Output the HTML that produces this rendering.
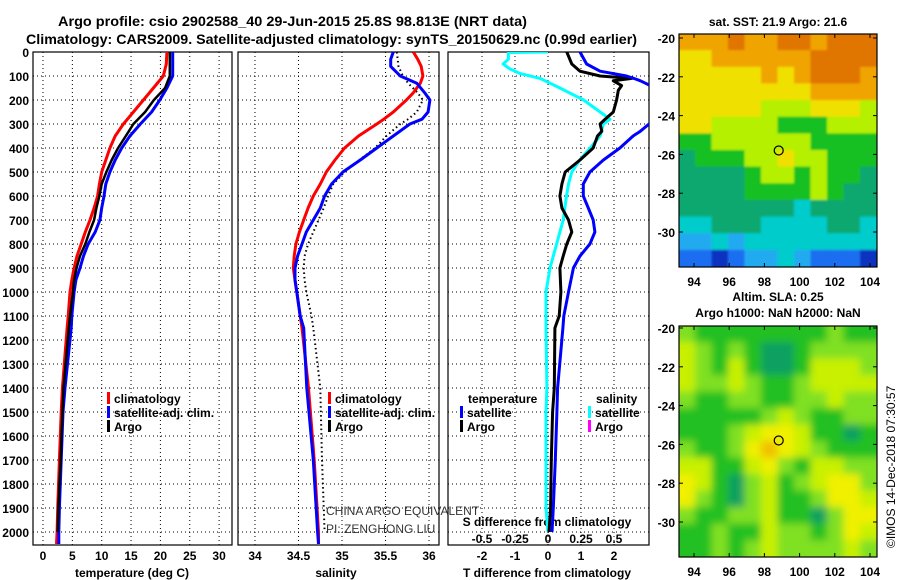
<!DOCTYPE html>
<html><head><meta charset="utf-8"><style>
html,body{margin:0;padding:0;background:#fff;}
svg{display:block;font-family:"Liberation Sans",sans-serif;font-weight:bold;}
</style></head><body>
<svg id="c" width="900" height="580" viewBox="0 0 900 580" xmlns="http://www.w3.org/2000/svg">
<defs>
<clipPath id="cp1"><rect x="33" y="52" width="199" height="493"/></clipPath>
<clipPath id="cp2"><rect x="238" y="52" width="201" height="493"/></clipPath>
<clipPath id="cp3"><rect x="448" y="52" width="201" height="493"/></clipPath>
<clipPath id="cm1"><rect x="679" y="34" width="198" height="233"/></clipPath>
<clipPath id="cm2"><rect x="679" y="326" width="198" height="231"/></clipPath>
<filter id="bl" x="-10%" y="-10%" width="120%" height="120%"><feGaussianBlur stdDeviation="4"/></filter>
<filter id="bl1" x="-10%" y="-10%" width="120%" height="120%"><feGaussianBlur stdDeviation="1"/></filter>
</defs>
<text x="58" y="26" font-size="14" textLength="469" lengthAdjust="spacingAndGlyphs">Argo profile: csio 2902588_40 29-Jun-2015 25.8S 98.813E (NRT data)</text>
<text x="26" y="44" font-size="14" textLength="611" lengthAdjust="spacingAndGlyphs">Climatology: CARS2009. Satellite-adjusted climatology: synTS_20150629.nc (0.99d earlier)</text>
<text x="778" y="26" font-size="12" text-anchor="middle">sat. SST: 21.9 Argo: 21.6</text>
<text x="778" y="301" font-size="12" text-anchor="middle">Altim. SLA: 0.25</text>
<text x="778" y="317" font-size="12" text-anchor="middle">Argo h1000: NaN h2000: NaN</text>
<text transform="translate(895,548) rotate(-90)" font-size="12" font-weight="normal">©IMOS 14-Dec-2018 07:30:57</text>
<g id="g"></g>
</svg>
<script>
// ---- data ----
const depthT = [0,50,100,150,200,250,300,350,400,450,500,550,600,650,700,750,800,850,900,950,1000,1100,1150,1400,1500,1700,1900,2000,2050];
const tempClim = [21.1,21.0,20.5,18.8,17.1,15.4,13.7,12.3,11.4,10.7,10.0,9.6,9.3,8.7,8.0,7.2,6.5,5.8,5.3,4.9,4.6,4.3,4.1,3.3,3.1,2.8,2.5,2.4,2.3];
const tempSat  = [22.1,22.1,22.1,21.1,19.9,18.5,16.6,14.8,13.4,12.3,11.4,10.7,10.4,10.0,9.7,8.9,7.7,6.9,6.3,5.6,5.3,4.9,4.8,3.75,3.4,3.1,2.8,2.7,2.7];
const tempArgo = [21.6,21.6,21.6,20.8,18.9,17.4,15.4,14.1,12.8,11.7,10.8,10.0,9.6,9.1,8.7,7.9,7.2,6.3,5.7,5.3,5.1,4.6,4.4,3.5,3.3,3.0,2.6,2.5,null];
const depthS = [0,30,60,100,130,170,200,250,280,300,350,400,450,500,550,600,650,700,750,800,850,900,950,1000,1100,1150,1400,1700,2000,2050];
const salClim = [35.82,35.87,35.91,35.93,35.90,35.82,35.74,35.59,35.48,35.40,35.19,35.03,34.92,34.82,34.75,34.67,34.61,34.56,34.51,34.47,34.45,34.44,34.46,34.48,34.52,34.54,34.615,34.68,34.73,34.73];
const salSat  = [35.59,35.56,35.56,35.67,35.86,35.95,36.01,35.99,35.92,35.78,35.59,35.40,35.21,35.01,34.88,34.80,34.75,34.67,34.59,34.54,34.49,34.46,34.46,34.48,34.52,34.56,34.595,34.67,34.72,34.73];
const salArgo = [35.63,35.64,35.65,35.70,35.76,35.87,35.93,35.86,35.76,35.67,35.51,35.38,35.20,35.03,34.90,34.84,34.79,34.73,34.67,34.61,34.57,34.56,34.57,34.59,34.65,34.67,34.75,34.77,34.80,null];
const depthD = [0,50,80,100,110,120,140,160,200,250,280,300,330,350,400,450,500,550,600,650,700,750,800,850,900,1000,1100,1150,1400,1500,1700,1900,2000];
const tdiffArgo = [0.57,0.72,0.97,1.58,2.54,1.98,2.23,2.13,2.08,1.98,1.73,1.58,1.63,1.5,1.37,0.97,0.52,0.42,0.36,0.42,0.62,0.72,0.57,0.46,0.36,0.39,0.34,0.21,0.19,0.14,0.10,0.08,0.03];
const tdiffSat  = [0.97,1.17,1.58,2.38,2.6,2.8,3.1,3.5,3.8,3.6,3.3,3.06,2.8,2.58,2.18,1.68,1.27,1.07,1.07,1.22,1.37,1.42,1.27,0.97,0.77,0.62,0.48,0.45,0.29,0.27,0.22,0.16,0.12];
const depthSD = [0,2,30,50,70,90,110,150,200,250,280,300,350,400,450,500,550,600,700,800,900,1000,1150,1400,1500,1900,2000];
const sdiffSat = [0.0,-0.3,-0.3,-0.34,-0.29,-0.21,-0.06,0.09,0.27,0.395,0.47,0.42,0.395,0.32,0.24,0.18,0.155,0.14,0.115,0.065,0.015,-0.015,-0.015,-0.008,-0.015,-0.015,0.0];
const depthTicks = [0,100,200,300,400,500,600,700,800,900,1000,1100,1200,1300,1400,1500,1600,1700,1800,1900,2000];
const tempTicks = [0,5,10,15,20,25,30];
const salTicks = [34,34.5,35,35.5,36];
const tdTicks = [-2,-1,0,1,2];
const sdTicks = [-0.5,-0.25,0,0.25,0.5];
const sdTickLabels = ["-0.5","-0.25","0","0.25","0.5"];
const lonTicks = [94,96,98,100,102,104];
const latTicks = [-20,-22,-24,-26,-28,-30];
const sstColors = ["#1030c0","#1e6ef0","#22aaf0","#00cccc","#10a870","#14c020","#b4f000","#f0e000","#f0a400","#e07400"];
const sstGrid = [
[8,8,8,9,8,8,9,9,8,9,9,9],
[7,7,8,8,8,8,8,8,9,9,9,9],
[7,7,7,7,7,8,7,8,9,9,9,8],
[7,7,7,7,7,7,7,7,8,8,8,8],
[7,7,7,7,7,6,6,6,7,7,7,6],
[7,7,6,6,6,6,5,5,5,6,6,6],
[5,5,6,6,6,6,6,6,5,5,5,5],
[4,5,5,5,6,6,7,6,6,5,5,5],
[4,4,4,4,5,6,6,5,6,5,5,4],
[4,4,4,4,5,5,5,5,6,5,4,4],
[4,4,4,4,4,4,4,3,4,4,4,4],
[3,3,4,4,4,3,3,3,3,4,4,3],
[2,2,3,2,3,3,3,3,3,3,3,3],
[1,1,0,1,2,2,3,2,1,1,1,0]];
const slaColors = ["#10a060","#20c020","#80e020","#c8f000","#f0f000","#f0c000"];
const slaGrid = [
[2,1,1,1,1,1,1,1,1,2,1,1],
[3,2,1,2,1,0,0,1,2,2,2,2],
[3,2,1,3,1,0,0,1,3,3,3,2],
[3,2,2,3,2,1,1,2,3,3,3,3],
[2,1,1,2,2,1,1,2,2,3,2,2],
[1,1,1,1,1,2,3,2,1,1,2,2],
[1,1,1,2,3,4,4,3,1,1,0,1],
[2,1,1,2,4,5,4,3,2,1,1,1],
[3,3,1,1,3,4,2,1,3,3,2,2],
[4,3,1,0,2,3,1,2,3,4,4,2],
[4,2,1,0,2,3,1,1,2,4,4,3],
[2,1,1,2,2,3,1,1,0,2,4,4],
[1,1,2,1,1,3,2,2,1,2,4,3],
[1,1,2,1,2,3,2,2,2,2,3,2]];
const argoLon = 98.813, argoLat = -25.8;

// ---- scales ----
const NS="http://www.w3.org/2000/svg";
const G=document.getElementById('g');
function el(t,a,p){const e=document.createElementNS(NS,t);for(const k in a)e.setAttribute(k,a[k]);(p||G).appendChild(e);return e;}
const yD=d=>52+d*0.24;
const xT=v=>43+v*5.87;
const xS=v=>255+(v-34)*87;
const xTD=v=>548+v*33;
const xSD=v=>548+v*4*33;
const lonX=v=>694+(v-94)*17.6;
const latY1=v=>38+(-20-v)*19.4;
const latY2=v=>328+(-20-v)*19.4;

function frame(x0,x1,name,xticks,xf){
  const g=el('g',{});
  
  
  depthTicks.forEach(d=>{ if(d>0) el('line',{x1:x0,x2:x1,y1:yD(d),y2:yD(d),stroke:'#000','stroke-width':1,'stroke-dasharray':'1,3'},g);});
  xticks.forEach(v=>{ const x=xf(v); el('line',{x1:x,x2:x,y1:52,y2:545,stroke:'#000','stroke-width':1,'stroke-dasharray':'1,3'},g);});
  el('rect',{x:x0,y:52,width:x1-x0,height:493,fill:'none',stroke:'#000','stroke-width':1.2},g);
  return g;
}
function line(xs,ds,xf,color,w,clip,name,dash){
  let pts=[];
  for(let i=0;i<ds.length;i++){ if(xs[i]===null||xs[i]===undefined) continue; pts.push(xf(xs[i]).toFixed(1)+','+yD(ds[i]).toFixed(1)); }
  const p=el('polyline',{points:pts.join(' '),fill:'none',stroke:color,'stroke-width':w,'clip-path':'url(#'+clip+')','stroke-linejoin':'round'});
  if(dash) p.setAttribute('stroke-dasharray',dash);
  
  
}
function txt(x,y,s,size,anchor,name,extra){
  const t=el('text',Object.assign({x:x,y:y,'font-size':size,'text-anchor':anchor||'start'},extra||{}));
  t.textContent=s;
  
  
  return t;
}

// panels
frame(33,232,'temperature-panel',tempTicks,xT);
frame(238,439,'salinity-panel',salTicks,xS);
frame(448,649,'difference-panel',tdTicks,xTD);
depthTicks.forEach(d=>txt(29,yD(d)+5,String(d),12,'end','depth-tick-label'));
tempTicks.forEach(v=>txt(xT(v),560,String(v),12,'middle','temperature-tick-label'));
salTicks.forEach(v=>txt(xS(v),560,String(v),12,'middle','salinity-tick-label'));
tdTicks.forEach(v=>txt(xTD(v),560,String(v),12,'middle','tdiff-tick-label'));
sdTicks.forEach((v,i)=>txt(xSD(v),543,sdTickLabels[i],12,'middle','sdiff-tick-label'));
txt(132,577,'temperature (deg C)',12,'middle','temperature-axis-title');
txt(336,577,'salinity',12,'middle','salinity-axis-title');
txt(547,577,'T difference from climatology',12,'middle','tdiff-axis-title');
txt(547,526,'S difference from climatology',12,'middle','sdiff-axis-title');
txt(326,515,'CHINA ARGO EQUIVALENT',12,'start','credit-line-1',{'font-weight':'normal',fill:'#333'});
txt(326,533,'PI: ZENGHONG LIU',12,'start','credit-line-2',{'font-weight':'normal',fill:'#333'});

// series
line(tempClim,depthT,xT,'#f00',3,'cp1','temperature-climatology-line');
line(tempSat,depthT,xT,'#00f',3,'cp1','temperature-satellite-line');
line(tempArgo,depthT,xT,'#000',2.5,'cp1','temperature-argo-line');
line(salArgo,depthS,xS,'#000',2,'cp2','salinity-argo-line','1.5,3');
line(salClim,depthS,xS,'#f00',3,'cp2','salinity-climatology-line');
line(salSat,depthS,xS,'#00f',3,'cp2','salinity-satellite-line');
line(sdiffSat,depthSD,xSD,'#00ffff',3,'cp3','sdiff-satellite-line');
line(tdiffArgo,depthD,xTD,'#000',3,'cp3','tdiff-argo-line');
line(tdiffSat,depthD,xTD,'#00f',3,'cp3','tdiff-satellite-line');

// legends
function legend(x,y,color,label,name){
  const g=el('g',{});
  
  
  el('rect',{x:x,y:y-11,width:3,height:12,fill:color},g);
  const t=el('text',{x:x+7,y:y,'font-size':12},g); t.textContent=label;
}
legend(107,403,'#f00','climatology','legend-temp-climatology');
legend(107,417,'#00f','satellite-adj. clim.','legend-temp-satellite');
legend(107,431,'#000','Argo','legend-temp-argo');
legend(328,403,'#f00','climatology','legend-sal-climatology');
legend(328,417,'#00f','satellite-adj. clim.','legend-sal-satellite');
legend(328,431,'#000','Argo','legend-sal-argo');
txt(468,403,'temperature',12,'start','legend-temperature-heading');
legend(460,417,'#00f','satellite','legend-tdiff-satellite');
legend(460,431,'#000','Argo','legend-tdiff-argo');
txt(596,403,'salinity',12,'start','legend-salinity-heading');
legend(588,417,'#00ffff','satellite','legend-sdiff-satellite');
legend(588,431,'#ff00ff','Argo','legend-sdiff-argo');

// maps
function heat(grid,colors,top,bottom,clip,name,filt){
  const g=el('g',{'clip-path':'url(#'+clip+')'});
  
  
  const inner=el('g',filt?{filter:'url(#'+filt+')'}:{},g);
  const rows=grid.length, cols=grid[0].length;
  const x0=679,x1=877,cw=(x1-x0)/cols,rh=(bottom-top)/rows,pad=12;
  for(let r=0;r<rows;r++)for(let c=0;c<cols;c++){
    let x=x0+c*cw-0.5, y=top+r*rh-0.5, w=cw+1, h=rh+1;
    if(c===0){x-=pad;w+=pad;} if(c===cols-1){w+=pad;}
    if(r===0){y-=pad;h+=pad;} if(r===rows-1){h+=pad;}
    const rc=el('rect',{x:x.toFixed(1),y:y.toFixed(1),width:w.toFixed(1),height:h.toFixed(1),fill:colors[grid[r][c]]},inner);
    
    
  }
}
heat(sstGrid,sstColors,34,267,'cm1','sst-map','bl1');
heat(slaGrid,slaColors,326,557,'cm2','sla-map','bl');
function mapAxes(top,bottom,latY,lblY,name){
  const g=el('g',{});
  
  
  el('rect',{x:679,y:top,width:198,height:bottom-top,fill:'none',stroke:'#000','stroke-width':1.2},g);
  lonTicks.forEach(v=>{const x=lonX(v); el('line',{x1:x,x2:x,y1:top,y2:top+4,stroke:'#000'},g); el('line',{x1:x,x2:x,y1:bottom,y2:bottom-4,stroke:'#000'},g);
    const t=el('text',{x:x,y:lblY,'font-size':12,'text-anchor':'middle'},g); t.textContent=String(v);});
  latTicks.forEach(v=>{const y=latY(v); el('line',{x1:679,x2:683,y1:y,y2:y,stroke:'#000'},g); el('line',{x1:877,x2:873,y1:y,y2:y,stroke:'#000'},g);
    const t=el('text',{x:675,y:y+5,'font-size':12,'text-anchor':'end'},g); t.textContent=String(v);});
}
mapAxes(34,267,latY1,286,'sst-map-axes');
mapAxes(326,557,latY2,576,'sla-map-axes');
const m1=el('circle',{cx:lonX(argoLon),cy:latY1(argoLat),r:4.5,fill:'none',stroke:'#000','stroke-width':1.2});


const m2=el('circle',{cx:lonX(argoLon),cy:latY2(argoLat),r:4.5,fill:'none',stroke:'#000','stroke-width':1.2});


</script>
</body></html>
